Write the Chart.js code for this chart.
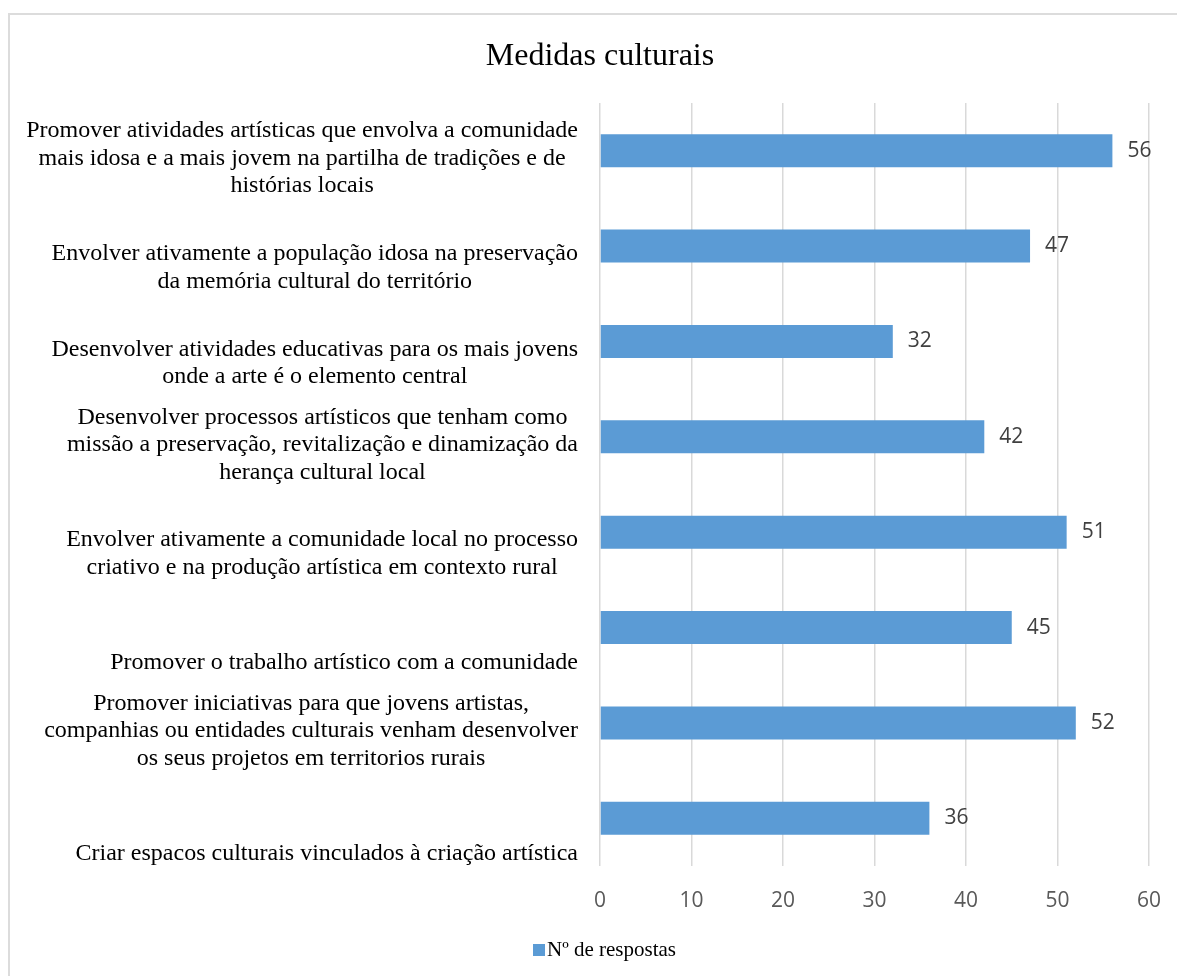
<!DOCTYPE html>
<html>
<head>
<meta charset="utf-8">
<script src="https://cdn.jsdelivr.net/npm/chart.js@4.4.1/dist/chart.umd.min.js"></script>
<style>
  html, body { margin: 0; padding: 0; background: #fff; }
  #frame { position: absolute; left: 8px; top: 13px; width: 1200px; height: 1000px; border-left: 2px solid #dcdcdc; border-top: 2px solid #dcdcdc; box-sizing: border-box; }
  #chart { position: absolute; left: 0; top: 0; }
</style>
</head>
<body>
<div id="frame"></div>
<canvas id="chart" width="1177" height="976"></canvas>
<script>
const chartTitle = "Medidas culturais";
const seriesName = "Nº de respostas";

// category labels, line by line (empty lines push the text down like in the original)
const categories = [
  ["Promover atividades artísticas que envolva a comunidade", "mais idosa e a mais jovem na partilha de tradições e de", "histórias locais"],
  ["", "Envolver ativamente a população idosa na preservação", "da memória cultural do território"],
  ["", "Desenvolver atividades educativas para os mais jovens", "onde a arte é o elemento central"],
  ["Desenvolver processos artísticos que tenham como", "missão a preservação, revitalização e dinamização da", "herança cultural local"],
  ["", "Envolver ativamente a comunidade local no processo", "criativo e na produção artística em contexto rural"],
  ["", "", "Promover o trabalho artístico com a comunidade"],
  ["Promover iniciativas para que jovens artistas,", "companhias ou entidades culturais venham desenvolver", "os seus projetos em territorios rurais"],
  ["", "", "Criar espacos culturais vinculados à criação artística"]
];
const responses = [56, 47, 32, 42, 51, 45, 52, 36];
const xMin = 0;
const xMax = 60;
const xStep = 10;

const serif = '"Liberation Serif", "Times New Roman", serif';
const sans = '"Open Sans", "Liberation Sans", sans-serif';
const barColor = "#5b9bd5";

// Excel style labels: lines centred on each other, block right aligned to the axis
const categoryLabels = {
  id: "categoryLabels",
  afterDraw(chart) {
    const { ctx } = chart;
    const y = chart.scales.y;
    ctx.save();
    ctx.font = "24px " + serif;
    ctx.fillStyle = "#000";
    ctx.textAlign = "center";
    ctx.textBaseline = "middle";
    categories.forEach((lines, i) => {
      const w = Math.max(...lines.map(l => ctx.measureText(l).width));
      const cx = y.right - 22 - w / 2;
      const cy = y.getPixelForValue(i) + 8;
      lines.forEach((l, j) => {
        ctx.fillText(l, cx, cy + (j - (lines.length - 1) / 2) * 27.5);
      });
    });
    ctx.restore();
  }
};

// numbers at the end of the bars
const valueLabels = {
  id: "valueLabels",
  afterDatasetsDraw(chart) {
    const { ctx } = chart;
    const meta = chart.getDatasetMeta(0);
    ctx.save();
    ctx.font = "21px " + sans;
    ctx.fillStyle = "#404040";
    ctx.textAlign = "left";
    ctx.textBaseline = "middle";
    meta.data.forEach((bar, i) => {
      ctx.fillText(String(responses[i]), bar.x + 15, bar.y);
    });
    ctx.restore();
  }
};

// legend: small square right next to the text
const smallLegend = {
  id: "smallLegend",
  afterDraw(chart) {
    const { ctx } = chart;
    ctx.save();
    ctx.font = "21px " + serif;
    const tw = ctx.measureText(seriesName).width;
    const total = 12 + 2 + tw;
    const x0 = chart.width / 2 + 16 - total / 2;
    const yc = chart.height - 26;
    ctx.fillStyle = barColor;
    ctx.fillRect(x0, yc - 6, 12, 12);
    ctx.fillStyle = "#000";
    ctx.textAlign = "left";
    ctx.textBaseline = "middle";
    ctx.fillText(seriesName, x0 + 14, yc);
    ctx.restore();
  }
};

new Chart(document.getElementById("chart"), {
  type: "bar",
  data: {
    labels: categories,
    datasets: [{
      label: seriesName,
      data: responses,
      backgroundColor: barColor,
      barPercentage: 0.345,
      categoryPercentage: 1
    }]
  },
  options: {
    indexAxis: "y",
    responsive: false,
    animation: false,
    layout: { padding: { left: 23, right: 0, top: 0, bottom: 50 } },
    plugins: {
      title: {
        display: true,
        text: chartTitle,
        color: "#000",
        font: { family: serif, size: 32, weight: "normal" },
        padding: { top: 37, bottom: 27.6 }
      },
      legend: { display: false },
      tooltip: { enabled: false }
    },
    scales: {
      x: {
        min: xMin,
        max: xMax,
        ticks: { stepSize: xStep, padding: 22, color: "#595959", font: { family: sans, size: 21 } },
        grid: { color: "#d9d9d9", lineWidth: 1.5, drawTicks: false },
        border: { display: false },
        afterFit(scale) {
          scale.height = 60;
          scale.paddingLeft = 0;
          scale.paddingRight = 28;
        }
      },
      y: {
        ticks: { display: false },
        grid: { display: false },
        border: { display: false },
        afterFit(scale) { scale.width = 577; }
      }
    }
  },
  plugins: [categoryLabels, valueLabels, smallLegend]
});
</script>
</body>
</html>
